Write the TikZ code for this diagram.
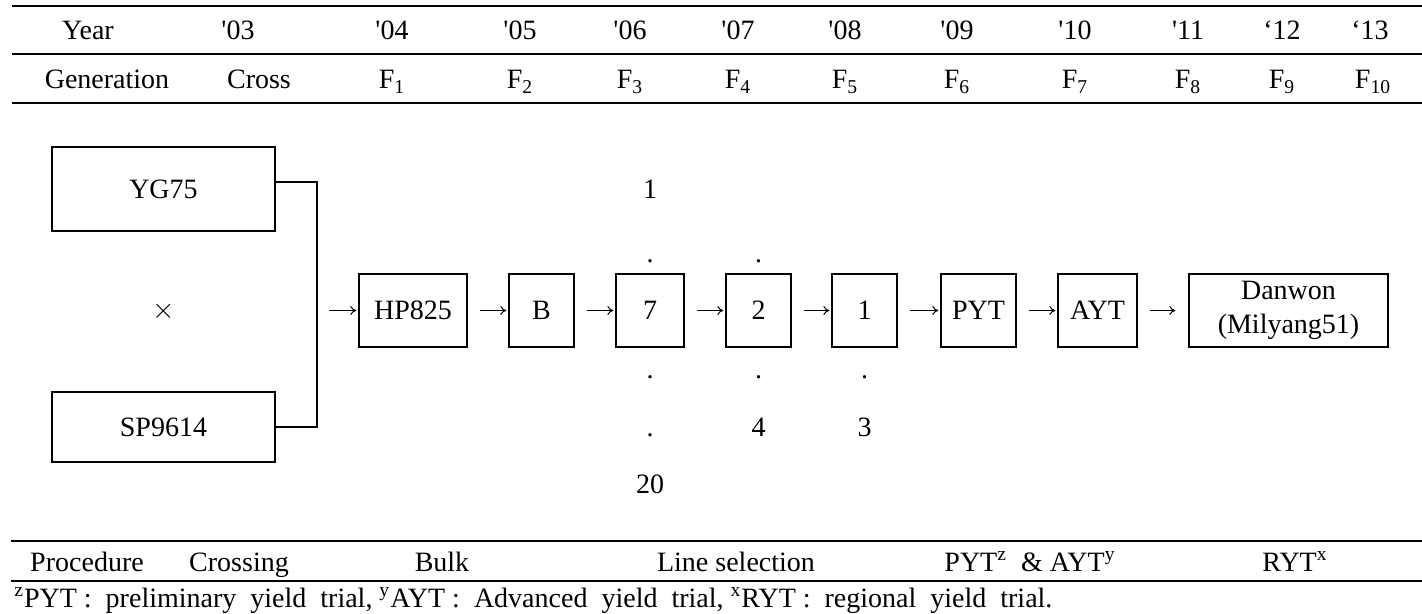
\documentclass[tikz,border=0pt]{standalone}
\usepackage{fontspec}
\setmainfont{Liberation Serif}[Ligatures=TeXOff]
\usetikzlibrary{arrows.meta}

\begin{document}
\begin{tikzpicture}[x=0.5pt,y=-0.5pt,font=\fontsize{14}{17}\selectfont,
    box/.style={draw,line width=0.65pt,inner sep=0pt,minimum height=36.5pt},
    rule/.style={line width=0.75pt},
    arr/.style={-{To[length=3pt,width=4.5pt]},line width=0.5pt,shorten <=6pt,shorten >=1pt},
    txt/.style={anchor=base,inner sep=0pt}]
\useasboundingbox (0,0) rectangle (1422,614);

% Draw the table rules
\foreach \y in {6,54,103}
    \draw[rule] (12,\y) -- (1422,\y);
\foreach \y in {541,581}
    \draw[rule] (11,\y) -- (1422,\y);

% Year and generation rows
\foreach \x/\t [count=\i] in {88/Year,238/'03,392/'04,520/'05,630/'06,738/'07,845/'08,957/'09,1075/'10,1188/'11,1282/‘12,1370/‘13}
    \node[txt] (yr\i) at (\x,40) {\t};
\foreach \x/\t [count=\i] in {107/Generation,259/Cross,392/F\textsubscript{1},520/F\textsubscript{2},630/F\textsubscript{3},738/F\textsubscript{4},845/F\textsubscript{5},957/F\textsubscript{6},1075/F\textsubscript{7},1188/F\textsubscript{8},1282/F\textsubscript{9},1373/F\textsubscript{10}}
    \node[txt] (gen\i) at (\x,89) {\t};

% Parents and the cross
\node[box,minimum width=111.5pt,minimum height=42pt] (yg) at (163.5,189) {YG75};
\node[box,minimum width=111.5pt,minimum height=35pt] (sp) at (163.5,427) {SP9614};
\node (cross) at (163.5,311) {$\times$};
\coordinate (br) at (317,310.5);
\draw[line width=0.65pt] ([yshift=3.5pt]yg.east) -| (br) |- (sp.east);

% Draw the selection chain
\node[box,minimum width=54pt] (hp) at (413,310.5) {HP825};
\node[box,minimum width=32.5pt] (b) at (541.5,310.5) {B};
\node[box,minimum width=34pt] (s7) at (650,310.5) {7};
\node[box,minimum width=32.5pt] (s2) at (758.5,310.5) {2};
\node[box,minimum width=32.5pt] (s1) at (864.5,310.5) {1};
\node[box,minimum width=37.5pt] (pyt) at (978.5,310.5) {PYT};
\node[box,minimum width=39.5pt] (ayt) at (1097.5,310.5) {AYT};
\node[box,minimum width=99.5pt,align=center] (dw) at (1288.5,310.5) {Danwon\\(Milyang51)};

\foreach \a/\b in {br/hp,hp/b,b/s7,s7/s2,s2/s1,s1/pyt,pyt/ayt}
    \draw[arr] (\a) -- (\b);
\draw[arr,shorten >=6.5pt] (ayt) -- (dw);

% Line numbers above and below
\node[txt] (n1) at (650,199) {1};
\node[txt] (d1) at (650,263) {.};
\node[txt] (d2) at (650,378) {.};
\node[txt] (d3) at (650,436) {.};
\node[txt] (n20) at (650,493) {20};
\node[txt] (d4) at (758.5,263) {.};
\node[txt] (d5) at (758.5,378) {.};
\node[txt] (n4) at (758.5,436) {4};
\node[txt] (d6) at (864.5,378) {.};
\node[txt] (n3) at (864.5,436) {3};

% Procedure row and footnote
\foreach \x/\t [count=\i] in {87/Procedure,239/Crossing,442/Bulk,736/Line selection,1030/{PYT\textsuperscript{z}\ \ \&\ AYT\textsuperscript{y}},1295/RYT\textsuperscript{x}}
    \node[txt] (pr\i) at (\x,571) {\t};
\node[txt,anchor=base west] (note) at (14,607) {\textsuperscript{z}PYT\ :\ \ preliminary\ \ yield\ \ trial,\ \textsuperscript{y}AYT\ :\ \ Advanced\ \ yield\ \ trial,\ \textsuperscript{x}RYT\ :\ \ regional\ \ yield\ \ trial.};

\end{tikzpicture}
\end{document}
